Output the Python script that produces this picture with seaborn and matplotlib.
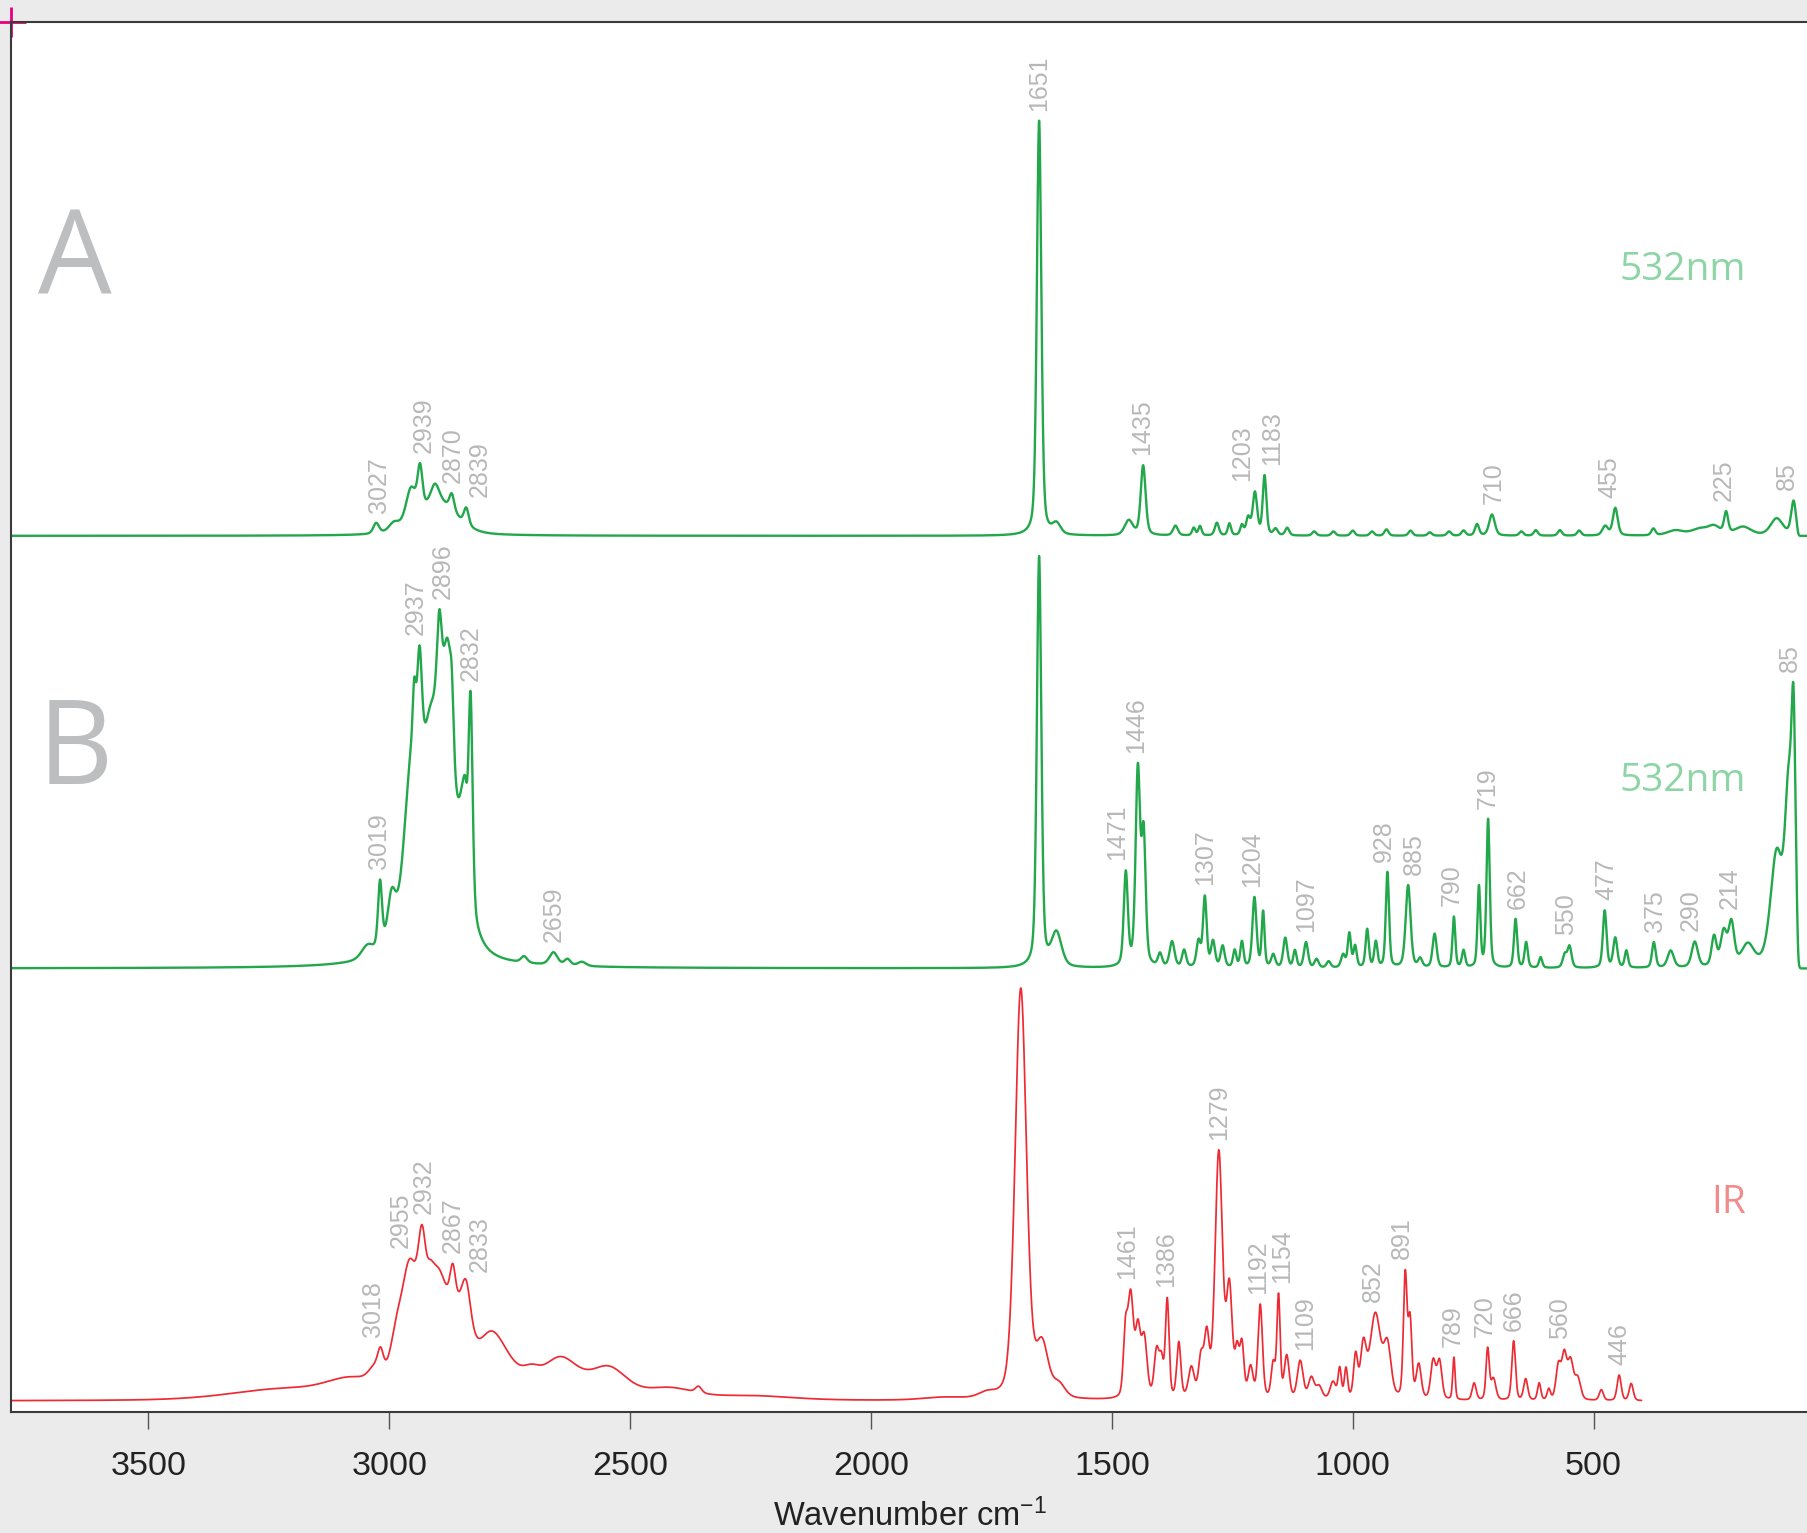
import numpy as np
import pandas as pd
import matplotlib
matplotlib.use("Agg")
import matplotlib.pyplot as plt
import seaborn as sns

# Bands: centre (cm-1), height (% of strongest band), FWHM (cm-1)

# A - Raman 532 nm, upper trace
a_centers = [3027, 2990, 2955, 2936, 2905, 2900, 2870, 2840,
             1651, 1615, 1465, 1435, 1368, 1330, 1317, 1282, 1256, 1230, 1217, 1203, 1183, 1160, 1136,
             1080, 1040, 1000, 960, 930, 880, 840, 800, 770, 742, 711,
             650, 620, 570, 530, 476, 455, 376, 330, 280, 250, 225, 190, 120, 85]
a_heights = [2.5, 2.0, 8.0, 10.0, 4.0, 8.0, 4.0, 4.0,
             98.0, 2.5, 3.5, 16.5, 2.3, 1.8, 2.2, 3.0, 2.8, 2.3, 4.0, 10.0, 14.0, 1.5, 1.8,
             1.0, 1.0, 1.2, 1.0, 1.5, 1.2, 0.8, 1.0, 1.2, 2.7, 5.0,
             1.0, 1.3, 1.3, 1.2, 2.2, 6.5, 1.6, 1.2, 1.5, 2.0, 5.0, 2.0, 4.0, 8.0]
a_widths = [14, 25, 25, 12, 20, 90, 12, 12,
            11, 20, 20, 12, 12, 8, 8, 10, 8, 8, 10, 11, 9, 10, 10,
            10, 10, 10, 10, 10, 10, 10, 10, 10, 10, 14,
            10, 10, 10, 10, 14, 12, 10, 40, 40, 30, 10, 40, 30, 12]
a_labels = ["3027", "2939", "2870", "2839", "1651", "1435", "1203", "1183",
            "710", "455", "225", "85"]
a_label_at = [3022, 2928, 2868, 2813, 1651, 1438, 1230, 1167, 708, 467, 230, 98]
a_label_peak = [3027, 2939, 2870, 2839, 1651, 1435, 1203, 1183, 710, 455, 225, 85]

# B - Raman 532 nm, middle trace
b_centers = [3045, 3019, 2995, 2955, 2948, 2937, 2915, 2900, 2896, 2878, 2870, 2846, 2842, 2831,
             2720, 2659, 2630, 2600,
             1651, 1615, 1471, 1446, 1434, 1400, 1375, 1350, 1320, 1307, 1290, 1270, 1245, 1230,
             1204, 1186, 1165, 1140, 1120, 1097, 1075, 1050, 1020, 1007, 995, 970, 952, 928,
             885, 860, 830, 790, 770, 738, 719, 662, 640, 610, 560, 550,
             477, 455, 432, 375, 340, 290, 250, 230, 214, 180, 120, 95, 85]
b_heights = [3.0, 16.0, 11.0, 30.0, 14.0, 26.0, 16.0, 44.0, 22.0, 35.0, 10.0, 20.0, 6.0, 48.0,
             1.5, 3.0, 1.5, 1.0,
             97.0, 8.0, 22.0, 46.0, 30.0, 3.0, 6.0, 4.0, 6.0, 16.5, 6.0, 5.0, 4.0, 6.0,
             16.5, 13.0, 3.0, 7.0, 4.0, 6.0, 2.0, 1.5, 3.0, 8.0, 5.0, 9.0, 6.0, 22.5,
             19.5, 2.0, 8.0, 12.0, 4.0, 19.0, 35.0, 11.5, 6.0, 2.5, 3.0, 5.0,
             13.5, 7.0, 4.0, 6.0, 4.0, 6.0, 7.0, 8.0, 10.0, 5.0, 26.0, 38.0, 48.0]
b_widths = [30, 10, 20, 35, 8, 12, 40, 90, 12, 24, 8, 20, 8, 10,
            15, 20, 15, 20,
            11, 25, 10, 11, 10, 10, 12, 10, 10, 9, 10, 10, 8, 8,
            10, 7, 10, 10, 8, 10, 10, 10, 10, 8, 8, 8, 8, 8,
            12, 10, 10, 7, 8, 7, 8, 8, 8, 8, 10, 10,
            9, 10, 8, 9, 15, 15, 12, 15, 14, 30, 30, 18, 10]
b_labels = ["3019", "2937", "2896", "2832", "2659", "1471", "1446", "1307", "1204",
            "1097", "928", "885", "790", "719", "662", "550", "477", "375", "290",
            "214", "85"]
b_label_at = [3022, 2945, 2888, 2830, 2658, 1490, 1450, 1306, 1208,
              1096, 935, 873, 794, 720, 658, 557, 474, 373, 299, 218, 93]
b_label_peak = [3019, 2937, 2896, 2832, 2659, 1471, 1446, 1307, 1204,
                1097, 928, 885, 790, 719, 662, 550, 477, 375, 290, 214, 85]

# IR - lower trace
ir_centers = [3220, 3080, 3030, 3018, 2985, 2958, 2932, 2915, 2900, 2900, 2868, 2850, 2840,
              2790, 2770, 2705, 2645, 2545, 2420, 2358, 2250, 1850, 1760,
              1689, 1645, 1610, 1472, 1461, 1446, 1433, 1407, 1397, 1385, 1361, 1335, 1315, 1303,
              1278, 1256, 1240, 1230, 1212, 1192, 1165, 1154, 1137, 1109, 1086, 1070,
              1041, 1027, 1014, 994, 978, 953, 928, 891, 881, 863, 833, 820, 790,
              748, 720, 708, 666, 641, 613, 593, 573, 561, 548, 533, 484, 447, 422]
ir_heights = [2.5, 3.5, 3.0, 5.0, 8.0, 20.0, 17.0, 4.0, 20.0, 9.0, 9.0, 6.0, 10.0,
              5.0, 9.0, 2.5, 9.0, 7.0, 2.5, 1.5, 1.0, 0.6, 1.2,
              97.0, 12.0, 3.0, 14.0, 24.0, 15.0, 14.0, 11.0, 8.0, 23.0, 13.0, 7.0, 9.0, 14.0,
              58.0, 25.0, 10.0, 12.0, 7.0, 22.0, 8.0, 24.0, 10.0, 9.0, 5.0, 3.0,
              4.0, 7.0, 7.0, 10.0, 12.0, 20.0, 12.0, 29.0, 18.0, 8.0, 9.0, 9.0, 10.0,
              4.0, 12.0, 5.0, 14.0, 5.0, 4.0, 2.5, 8.0, 10.0, 9.0, 5.0, 2.5, 6.0, 4.0]
ir_widths = [260, 120, 30, 14, 30, 36, 18, 16, 120, 40, 14, 40, 22,
             50, 90, 40, 90, 90, 120, 15, 200, 100, 40,
             28, 30, 30, 10, 14, 12, 14, 12, 10, 9, 10, 14, 12, 12,
             18, 14, 10, 10, 12, 11, 10, 8, 12, 14, 14, 15,
             14, 8, 8, 10, 14, 26, 18, 9, 9, 12, 12, 12, 6,
             10, 8, 12, 9, 10, 8, 8, 12, 12, 14, 14, 10, 10, 10]
ir_labels = ["3018", "2955", "2932", "2867", "2833", "1461", "1386", "1279", "1192",
             "1154", "1109", "852", "891", "789", "720", "666", "560", "446"]
ir_label_at = [3033, 2976, 2928, 2868, 2813, 1469, 1388, 1277, 1196,
               1146, 1098, 959, 897, 792, 727, 665, 569, 447]
ir_label_peak = [3018, 2955, 2932, 2867, 2833, 1461, 1386, 1279, 1192,
                 1154, 1109, 953, 891, 789, 720, 666, 560, 446]

RAMAN_GREEN = "#22a84b"
IR_RED = "#ee2a33"
LABEL_GREY = "#b8b8b8"


def band_sum(x, centers, heights, widths, eta):
    d = (x[:, None] - np.asarray(centers)[None, :]) / np.asarray(widths)[None, :]
    lor = 1.0 / (1.0 + (2 * d) ** 2)
    gau = np.exp(-4 * np.log(2) * d ** 2)
    return ((eta * lor + (1 - eta) * gau) * np.asarray(heights)[None, :]).sum(axis=1)


raman_wn = np.arange(3785, 55, -0.5)
ir_wn = np.arange(3785, 400, -0.5)
notch = 1.0 / (1.0 + np.exp(-(raman_wn - 76) / 1.2))   # Rayleigh filter edge

A_BASE, B_BASE, IR_BASE = 207.0, 104.8, 2.6
traces = {
    "A": (raman_wn, band_sum(raman_wn, a_centers, a_heights, a_widths, 0.4) * notch + A_BASE),
    "B": (raman_wn, band_sum(raman_wn, b_centers, b_heights, b_widths, 0.4) * notch + B_BASE),
    "IR": (ir_wn, band_sum(ir_wn, ir_centers, ir_heights, ir_widths, 0.3) + IR_BASE),
}

sns.set_theme(style="white")
plt.rcParams["font.family"] = ["Liberation Sans", "DejaVu Sans"]
plt.rcParams["mathtext.default"] = "regular"

fig = plt.figure(figsize=(18.08, 15.33), dpi=100, facecolor="#ebebeb")
ax = fig.add_axes([11 / 1808, 1 - 1412 / 1533, 1 - 11 / 1808, 1390 / 1533])
ax.set_facecolor("white")

for name, color, lw in [("A", RAMAN_GREEN, 1.7), ("B", RAMAN_GREEN, 1.7), ("IR", IR_RED, 1.25)]:
    wn, y = traces[name]
    df = pd.DataFrame({"wn": wn, "y": y})
    sns.lineplot(data=df, x="wn", y="y", color=color, lw=lw, sort=False,
                 estimator=None, ax=ax)

# peak labels, sitting just above the band they name
for name, labels, spots, peaks in [("A", a_labels, a_label_at, a_label_peak),
                                   ("B", b_labels, b_label_at, b_label_peak),
                                   ("IR", ir_labels, ir_label_at, ir_label_peak)]:
    wn, y = traces[name]
    for text, at, pk in zip(labels, spots, peaks):
        near = np.abs(wn - pk) <= 6
        ax.text(at, y[near].max() + 2.4, text, rotation=90, ha="center", va="bottom",
                color=LABEL_GREY, fontsize=18)

ax.set_xlim(3785, 55)
ax.set_ylim(0, 328.4)
ax.set_xticks([3500, 3000, 2500, 2000, 1500, 1000, 500])
ax.set_yticks([])
ax.tick_params(axis="x", direction="out", length=12, width=1, color="#555555",
               labelsize=24.5, labelcolor="#222222", pad=16, bottom=True)
ax.set_xlabel("Wavenumber cm$^{-1}$", fontsize=23.5, color="#222222", labelpad=12)
ax.set_ylabel("")
for side in ["top", "left", "bottom"]:
    ax.spines[side].set_color("#3a3a3a")
    ax.spines[side].set_linewidth(1.5)
ax.spines["right"].set_visible(False)

# panel letters and excitation tags
big = dict(family=["Open Sans", "DejaVu Sans"], color="#bdbec0", fontsize=84)
fig.text(38 / 1808, 1 - 294 / 1533, "A", ha="left", va="baseline", **big)
fig.text(38 / 1808, 1 - 784 / 1533, "B", ha="left", va="baseline", **big)
tag = dict(family=["Open Sans", "DejaVu Sans"], fontsize=28, ha="right", va="baseline")
fig.text(1746 / 1808, 1 - 280 / 1533, "532nm", color="#8dd5a5", **tag)
fig.text(1746 / 1808, 1 - 791 / 1533, "532nm", color="#8dd5a5", **tag)
fig.text(1746 / 1808, 1 - 1213 / 1533, "IR", color="#f28c8c", **tag)

# crop mark at the corner
ax.plot([0], [1], marker="+", ms=22, mew=2, color="#e6007e", transform=ax.transAxes,
        clip_on=False)

fig.savefig("out.png", dpi=100, facecolor=fig.get_facecolor())
